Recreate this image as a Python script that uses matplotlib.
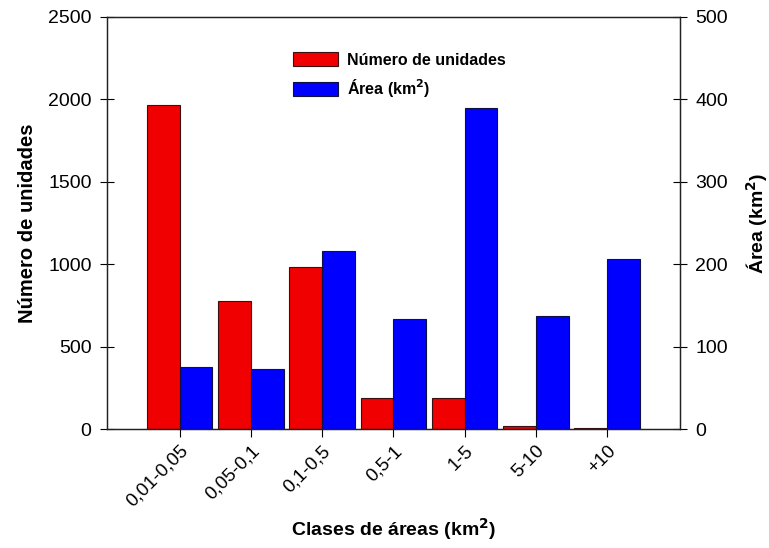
import numpy as np
import matplotlib
matplotlib.use("Agg")
import matplotlib.pyplot as plt

plt.rcParams['font.family'] = ['Liberation Sans', 'DejaVu Sans']

#-------data-------
clases = ["0,01-0,05", "0,05-0,1", "0,1-0,5", "0,5-1", "1-5", "5-10", "+10"]
unidades = [1968, 780, 985, 190, 190, 18, 4]
area = [75.5, 73.5, 216, 134, 389, 137.5, 206]

#-------plot-------
fig = plt.figure(figsize=(7.69, 5.48), dpi=100)
ax = fig.add_axes([0.139, 0.217, 0.745, 0.752])
ax2 = ax.twinx()

x = np.arange(len(clases))
w = 0.46
b1 = ax.bar(x - w / 2, unidades, w, color="#f00000", edgecolor="#3a1010",
            linewidth=0.8)
b2 = ax2.bar(x + w / 2, area, w, color="#0000ff", edgecolor="#101040",
             linewidth=0.8)

ax.set_xlim(-1.02, 7.02)
ax.set_ylim(0, 2500)
ax2.set_ylim(0, 500)
ax.set_yticks(range(0, 2501, 500))
ax2.set_yticks(range(0, 501, 100))

ax.set_xticks(x)
ax.set_xticklabels(clases, rotation=45, ha="right", rotation_mode="anchor")
ax.tick_params(axis="x", direction="out", length=6, labelsize=13.5, top=False)
ax.tick_params(axis="y", direction="inout", length=10, labelsize=14, pad=6)
ax2.tick_params(axis="y", direction="inout", length=10, labelsize=14, pad=6)

ax.set_xlabel("Clases de áreas (km$^\\mathbf{2}$)", fontsize=14, fontweight="bold", labelpad=4)
ax.set_ylabel("Número de unidades", fontsize=14.5, fontweight="bold", labelpad=8)
ax2.set_ylabel("Área (km$^\\mathbf{2}$)", fontsize=14, fontweight="bold", labelpad=12)

for a in (ax, ax2):
    for s in a.spines.values():
        s.set_linewidth(0.9)
        s.set_color("#222222")

ax2.legend([b1, b2], ["Número de unidades", "Área (km$^\\mathbf{2}$)"],
           loc="upper left", bbox_to_anchor=(0.3, 0.95), frameon=False,
           prop={"weight": "bold", "size": 11.5},
           handlelength=2.8, handleheight=1.0, handletextpad=0.6, labelspacing=0.6)

fig.savefig("out.png", dpi=100)
